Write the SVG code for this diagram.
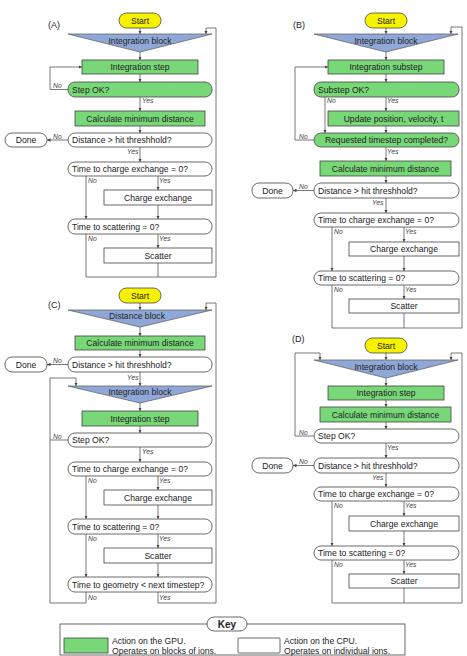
<svg xmlns="http://www.w3.org/2000/svg" width="467" height="656" viewBox="0 0 467 656">
<style>
text{font-family:"Liberation Sans",Arial,sans-serif;font-size:8.6px;fill:#222}
.c{text-anchor:middle}
.lbl{font-size:6.8px;font-style:italic;fill:#444}
.pl{font-size:9px}
.g{fill:#78d878;stroke:#444;stroke-width:0.8}
.w{fill:#fff;stroke:#444;stroke-width:0.8}
.y{fill:#f7f200;stroke:#444;stroke-width:0.8}
.b{fill:#8fa8d8;stroke:#666;stroke-width:0.8}
.ln{fill:none;stroke:#555;stroke-width:0.8}
.a{marker-end:url(#ah)}
</style>
<defs>
<marker id="ah" viewBox="0 0 6 6" refX="6" refY="3" markerWidth="3.5" markerHeight="3.5" markerUnits="userSpaceOnUse" orient="auto"><path d="M0,0 L6,3 L0,6 z" fill="#444"/></marker>
</defs>

<!-- Panel labels -->
<text class="pl" x="48" y="28">(A)</text>
<text class="pl" x="293" y="28">(B)</text>
<text class="pl" x="48" y="308">(C)</text>
<text class="pl" x="292" y="342">(D)</text>

<!-- Connectors -->
<g id="connectors">
<!-- A -->
<path class="ln a" d="M140,28 V34"/>
<path class="ln a" d="M140,52 V60"/>
<path class="ln a" d="M140,74 V82"/>
<path class="ln a" d="M68,89.5 H50 V67 H82"/>
<path class="ln a" d="M140,97 V111"/>
<path class="ln a" d="M140,126 V133"/>
<path class="ln a" d="M68,140 H47"/>
<path class="ln a" d="M140,147 V162"/>
<path class="ln a" d="M86,176 V219"/>
<path class="ln a" d="M158,176 V190"/>
<path class="ln a" d="M158,205 V219"/>
<path class="ln a" d="M158,234 V248"/>
<path class="ln" d="M158,263 V277"/>
<path class="ln a" d="M86,234 V277 H216 V28 H206 V34"/>
<!-- B -->
<path class="ln a" d="M386,28 V34"/>
<path class="ln a" d="M386,52 V60"/>
<path class="ln a" d="M386,74 V82"/>
<path class="ln a" d="M325,97 V133"/>
<path class="ln a" d="M386,97 V111"/>
<path class="ln a" d="M386,126 V133"/>
<path class="ln a" d="M314,140 H295 V67 H328"/>
<path class="ln a" d="M386,147 V161"/>
<path class="ln a" d="M386,176 V183"/>
<path class="ln a" d="M314,190.5 H293"/>
<path class="ln a" d="M386,198 V213"/>
<path class="ln a" d="M332,227 V271"/>
<path class="ln a" d="M404,227 V242"/>
<path class="ln a" d="M404,256 V271"/>
<path class="ln a" d="M404,285 V299"/>
<path class="ln" d="M404,313 V328"/>
<path class="ln a" d="M332,285 V328 H462 V27 H451 V34"/>
<!-- C -->
<path class="ln a" d="M140,303 V310"/>
<path class="ln a" d="M140,327 V336"/>
<path class="ln a" d="M140,350 V357"/>
<path class="ln a" d="M68,364.5 H47"/>
<path class="ln a" d="M140,372 V386"/>
<path class="ln a" d="M140,403 V411"/>
<path class="ln a" d="M140,426 V433"/>
<path class="ln" d="M68,440 H50"/>
<path class="ln a" d="M140,447 V462"/>
<path class="ln a" d="M86,476 V519"/>
<path class="ln a" d="M158,476 V490"/>
<path class="ln a" d="M158,505 V519"/>
<path class="ln a" d="M86,534 V577"/>
<path class="ln a" d="M158,534 V548"/>
<path class="ln a" d="M158,563 V577"/>
<path class="ln a" d="M86,592 V603 H50 V378 H76 V386"/>
<path class="ln a" d="M158,592 V603 H216 V303 H206 V310"/>
<!-- D -->
<path class="ln a" d="M386,353 V360"/>
<path class="ln a" d="M314,436 H295 V353 H320 V360"/>
<path class="ln a" d="M386,378 V386"/>
<path class="ln a" d="M386,400 V407"/>
<path class="ln a" d="M386,422 V429"/>
<path class="ln a" d="M386,443 V458"/>
<path class="ln a" d="M314,465.5 H293"/>
<path class="ln a" d="M386,473 V487"/>
<path class="ln a" d="M332,501 V546"/>
<path class="ln a" d="M404,501 V516"/>
<path class="ln a" d="M404,531 V546"/>
<path class="ln a" d="M404,560 V574"/>
<path class="ln" d="M404,588 V603"/>
<path class="ln a" d="M332,560 V603 H462 V353 H451 V360"/>
</g>

<!-- Connector labels -->
<g id="labels">
<text class="lbl" x="53" y="88">No</text>
<text class="lbl" x="142" y="103">Yes</text>
<text class="lbl" x="53" y="138.5">No</text>
<text class="lbl" x="127" y="154">Yes</text>
<text class="lbl" x="88" y="183">No</text>
<text class="lbl" x="159" y="183">Yes</text>
<text class="lbl" x="88" y="241">No</text>
<text class="lbl" x="159" y="241">Yes</text>

<text class="lbl" x="327" y="103">No</text>
<text class="lbl" x="387" y="103">Yes</text>
<text class="lbl" x="299" y="138.5">No</text>
<text class="lbl" x="387" y="154">Yes</text>
<text class="lbl" x="299" y="189">No</text>
<text class="lbl" x="372" y="204.5">Yes</text>
<text class="lbl" x="334" y="234">No</text>
<text class="lbl" x="405" y="234">Yes</text>
<text class="lbl" x="334" y="292">No</text>
<text class="lbl" x="405" y="292">Yes</text>

<text class="lbl" x="53" y="363">No</text>
<text class="lbl" x="127" y="379.5">Yes</text>
<text class="lbl" x="53" y="438.5">No</text>
<text class="lbl" x="142" y="454">Yes</text>
<text class="lbl" x="88" y="483">No</text>
<text class="lbl" x="159" y="483">Yes</text>
<text class="lbl" x="88" y="541">No</text>
<text class="lbl" x="159" y="541">Yes</text>
<text class="lbl" x="88" y="599.5">No</text>
<text class="lbl" x="159" y="599.5">Yes</text>

<text class="lbl" x="299" y="434.5">No</text>
<text class="lbl" x="387" y="449.5">Yes</text>
<text class="lbl" x="299" y="464">No</text>
<text class="lbl" x="372" y="479.5">Yes</text>
<text class="lbl" x="334" y="508">No</text>
<text class="lbl" x="405" y="508">Yes</text>
<text class="lbl" x="334" y="567">No</text>
<text class="lbl" x="405" y="567">Yes</text>
</g>

<!-- Panel A nodes -->
<g id="a-start"><rect class="y" x="119" y="13" width="42" height="15" rx="7.5"/><text class="c" x="140" y="23.5">Start</text></g>
<g id="a-intblock"><path class="b" d="M68,34 H212 L140,52 Z"/><text class="c" x="140" y="44">Integration block</text></g>
<g id="a-intstep"><rect class="g" x="82" y="60" width="116" height="14"/><text class="c" x="140" y="70">Integration step</text></g>
<g id="a-stepok"><rect class="g" x="68" y="82" width="144" height="15" rx="7"/><text x="72" y="92.5">Step OK?</text></g>
<g id="a-calc"><rect class="g" x="75" y="111" width="130" height="15"/><text class="c" x="140" y="121.5">Calculate minimum distance</text></g>
<g id="a-dist"><rect class="w" x="68" y="133" width="144" height="14" rx="7"/><text x="72" y="143">Distance &gt; hit threshhold?</text></g>
<g id="a-done"><rect class="w" x="5" y="133" width="42" height="14" rx="7"/><text class="c" x="26" y="143">Done</text></g>
<g id="a-tce"><rect class="w" x="68" y="162" width="144" height="14" rx="7"/><text x="72" y="172">Time to charge exchange = 0?</text></g>
<g id="a-ce"><rect class="w" x="104" y="190" width="108" height="15"/><text class="c" x="158" y="200.5">Charge exchange</text></g>
<g id="a-ts"><rect class="w" x="68" y="219" width="144" height="15" rx="7"/><text x="72" y="229.5">Time to scattering = 0?</text></g>
<g id="a-scatter"><rect class="w" x="104" y="248" width="108" height="15"/><text class="c" x="158" y="258.5">Scatter</text></g>

<!-- Panel B nodes -->
<g id="b-start"><rect class="y" x="365" y="13" width="42" height="15" rx="7.5"/><text class="c" x="386" y="23.5">Start</text></g>
<g id="b-intblock"><path class="b" d="M314,34 H458 L386,52 Z"/><text class="c" x="386" y="44">Integration block</text></g>
<g id="b-substep"><rect class="g" x="328" y="60" width="116" height="14"/><text class="c" x="386" y="70">Integration substep</text></g>
<g id="b-subok"><rect class="g" x="314" y="82" width="145" height="15" rx="7"/><text x="318" y="92.5">Substep OK?</text></g>
<g id="b-update"><rect class="g" x="328" y="111" width="131" height="15"/><text class="c" x="393.5" y="121.5">Update position, velocity, t</text></g>
<g id="b-req"><rect class="g" x="314" y="133" width="145" height="14" rx="7"/><text class="c" x="386.5" y="143">Requested timestep completed?</text></g>
<g id="b-calc"><rect class="g" x="320" y="161" width="131" height="15"/><text class="c" x="385.5" y="171.5">Calculate minimum distance</text></g>
<g id="b-dist"><rect class="w" x="314" y="183" width="145" height="15" rx="7"/><text x="318" y="193.5">Distance &gt; hit threshhold?</text></g>
<g id="b-done"><rect class="w" x="252" y="183" width="41" height="15" rx="7"/><text class="c" x="272.5" y="193.5">Done</text></g>
<g id="b-tce"><rect class="w" x="314" y="213" width="145" height="14" rx="7"/><text x="318" y="223">Time to charge exchange = 0?</text></g>
<g id="b-ce"><rect class="w" x="349" y="242" width="110" height="14"/><text class="c" x="404" y="252">Charge exchange</text></g>
<g id="b-ts"><rect class="w" x="314" y="271" width="145" height="14" rx="7"/><text x="318" y="281">Time to scattering = 0?</text></g>
<g id="b-scatter"><rect class="w" x="349" y="299" width="110" height="14"/><text class="c" x="404" y="309">Scatter</text></g>

<!-- Panel C nodes -->
<g id="c-start"><rect class="y" x="119" y="288" width="42" height="15" rx="7.5"/><text class="c" x="140" y="298.5">Start</text></g>
<g id="c-distblock"><path class="b" d="M68,310 H212 L140,327 Z"/><text class="c" x="137" y="318.5">Distance block</text></g>
<g id="c-calc"><rect class="g" x="75" y="336" width="130" height="14"/><text class="c" x="140" y="346">Calculate minimum distance</text></g>
<g id="c-dist"><rect class="w" x="68" y="357" width="144" height="15" rx="7"/><text x="72" y="367.5">Distance &gt; hit threshhold?</text></g>
<g id="c-done"><rect class="w" x="5" y="357" width="42" height="15" rx="7"/><text class="c" x="26" y="367.5">Done</text></g>
<g id="c-intblock"><path class="b" d="M68,386 H212 L140,403 Z"/><text class="c" x="140" y="394.5">Integration block</text></g>
<g id="c-intstep"><rect class="g" x="82" y="411" width="116" height="15"/><text class="c" x="140" y="421.5">Integration step</text></g>
<g id="c-stepok"><rect class="w" x="68" y="433" width="144" height="14" rx="7"/><text x="72" y="443">Step OK?</text></g>
<g id="c-tce"><rect class="w" x="68" y="462" width="144" height="14" rx="7"/><text x="72" y="472">Time to charge exchange = 0?</text></g>
<g id="c-ce"><rect class="w" x="104" y="490" width="108" height="15"/><text class="c" x="158" y="500.5">Charge exchange</text></g>
<g id="c-ts"><rect class="w" x="68" y="519" width="144" height="15" rx="7"/><text x="72" y="529.5">Time to scattering = 0?</text></g>
<g id="c-scatter"><rect class="w" x="104" y="548" width="108" height="15"/><text class="c" x="158" y="558.5">Scatter</text></g>
<g id="c-geom"><rect class="w" x="68" y="577" width="144" height="15" rx="7"/><text x="72" y="587.5">Time to geometry &lt; next timestep?</text></g>

<!-- Panel D nodes -->
<g id="d-start"><rect class="y" x="365" y="338" width="42" height="15" rx="7.5"/><text class="c" x="386" y="348.5">Start</text></g>
<g id="d-intblock"><path class="b" d="M314,360 H458 L386,378 Z"/><text class="c" x="386" y="369.5">Integration block</text></g>
<g id="d-intstep"><rect class="g" x="328" y="386" width="116" height="14"/><text class="c" x="386" y="396">Integration step</text></g>
<g id="d-calc"><rect class="g" x="320" y="407" width="131" height="15"/><text class="c" x="385.5" y="417.5">Calculate minimum distance</text></g>
<g id="d-stepok"><rect class="w" x="314" y="429" width="145" height="14" rx="7"/><text x="318" y="439">Step OK?</text></g>
<g id="d-dist"><rect class="w" x="314" y="458" width="145" height="15" rx="7"/><text x="318" y="468.5">Distance &gt; hit threshhold?</text></g>
<g id="d-done"><rect class="w" x="252" y="458" width="41" height="15" rx="7"/><text class="c" x="272.5" y="468.5">Done</text></g>
<g id="d-tce"><rect class="w" x="314" y="487" width="145" height="14" rx="7"/><text x="318" y="497">Time to charge exchange = 0?</text></g>
<g id="d-ce"><rect class="w" x="349" y="516" width="110" height="15"/><text class="c" x="404" y="526.5">Charge exchange</text></g>
<g id="d-ts"><rect class="w" x="314" y="546" width="145" height="14" rx="7"/><text x="318" y="556">Time to scattering = 0?</text></g>
<g id="d-scatter"><rect class="w" x="349" y="574" width="110" height="14"/><text class="c" x="404" y="584">Scatter</text></g>

<!-- Key -->
<g id="key">
<rect class="w" x="60" y="624" width="345" height="31"/>
<rect class="w" x="207" y="617" width="40" height="14" rx="7"/>
<text class="c" x="227" y="627.5" style="font-weight:bold;font-size:10px">Key</text>
<rect class="g" x="64" y="638" width="44" height="15"/>
<text x="112" y="644">Action on the GPU.</text>
<text x="112" y="653.5">Operates on blocks of ions.</text>
<rect class="w" x="238" y="638" width="42" height="15" rx="1"/>
<text x="284" y="644">Action on the CPU.</text>
<text x="284" y="653.5">Operates on individual ions.</text>
</g>
</svg>
